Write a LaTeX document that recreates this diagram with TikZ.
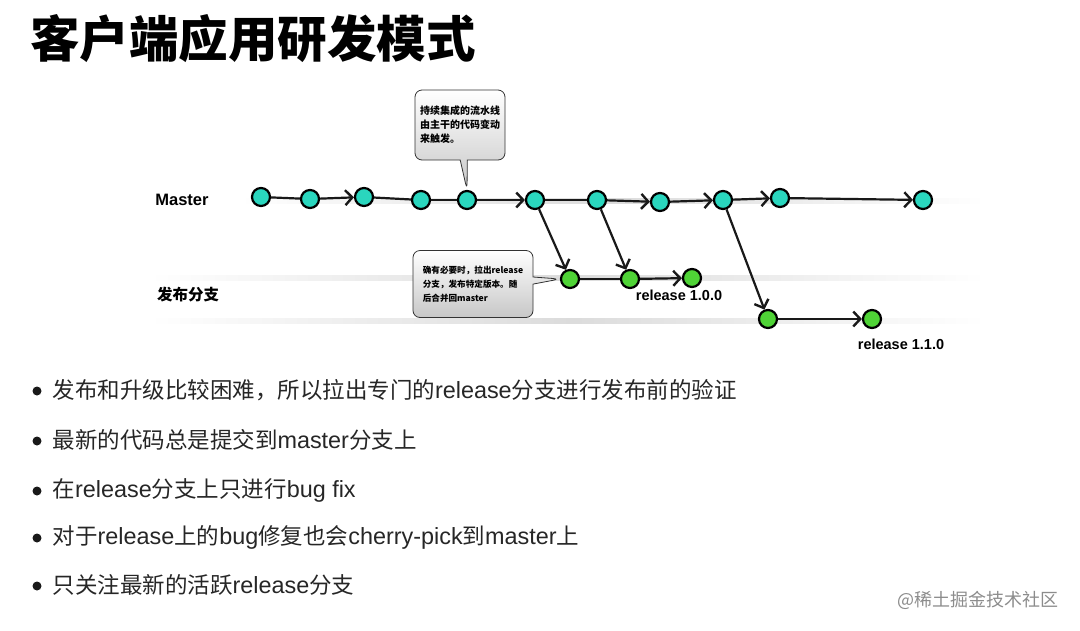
\documentclass[tikz,border=0pt]{standalone}
\usepackage{fontspec}
\setmainfont{Noto Sans CJK SC}
\newfontfamily\lat{Liberation Sans}
\newfontfamily\latw[Scale=1.04]{Liberation Sans}
\usepackage{tikz}
\usetikzlibrary{arrows.meta}
\usetikzlibrary{shapes}
\usetikzlibrary{shapes.callouts}
\usetikzlibrary{calc}

\definecolor{mastercol}{HTML}{2AD6BE}
\definecolor{relcol}{HTML}{4FD336}

\begin{document}
\begin{tikzpicture}[x=1pt, y=-1pt,
    commit/.style={circle, draw=black, line width=2.2pt, minimum size=18pt, inner sep=0pt},
    mcommit/.style={commit, fill=mastercol},
    rcommit/.style={commit, fill=relcol},
    link/.style={line width=2.2pt, black!90},
    go/.style={link, -{Straight Barb[length=7pt, width=15pt, line width=2.4pt]}},
    tip/.style={rectangle callout, draw=black!80, line width=0.8pt, rounded corners=7pt,
        top color=white, bottom color=black!22, align=left, inner sep=4pt},
    point/.style={circle, fill=black!90, inner sep=0pt, minimum size=9pt},
    say/.style={anchor=west, font=\fontsize{22.5}{25}\selectfont, text=black!85}]
    \path[use as bounding box] (0, 0) rectangle (1080, 630);

    % title
    \node[anchor=west, inner sep=0pt, font=\fontsize{49.5}{52}\selectfont\bfseries] (title) at (30, 39) {客户端应用研发模式};

    % lanes
    \shade[left color=white, right color=white, middle color=black!14] (240, 198) rectangle (985, 203);
    \shade[left color=white, right color=white, middle color=black!14] (150, 275) rectangle (985, 280);
    \shade[left color=white, right color=white, middle color=black!14] (150, 318) rectangle (985, 323);

    \node[font=\fontsize{16.5}{18}\selectfont\bfseries\lat] (mlabel) at (182, 200) {Master};
    \node[font=\fontsize{15.5}{18}\selectfont\bfseries] (rlabel) at (188, 295) {发布分支};

    % master commits
    \node[mcommit] (m1) at (261, 197) {};
    \node[mcommit] (m2) at (310, 199) {};
    \node[mcommit] (m3) at (364, 197) {};
    \node[mcommit] (m4) at (421, 200) {};
    \node[mcommit] (m5) at (467, 200) {};
    \node[mcommit] (m6) at (535, 200) {};
    \node[mcommit] (m7) at (597, 200) {};
    \node[mcommit] (m8) at (660, 202) {};
    \node[mcommit] (m9) at (723, 200) {};
    \node[mcommit] (m10) at (780, 198) {};
    \node[mcommit] (m11) at (923, 200) {};

    % release commits
    \node[rcommit] (r1) at (570, 279) {};
    \node[rcommit] (r2) at (630, 279) {};
    \node[rcommit] (r3) at (692, 278) {};
    \node[rcommit] (s1) at (768, 319) {};
    \node[rcommit] (s2) at (872, 319) {};

    \draw[link] (m1) -- (m2);
    \draw[go] (m2) -- (m3);
    \draw[link] (m3) -- (m4);
    \draw[link] (m4) -- (m5);
    \draw[go] (m5) -- (m6);
    \draw[link] (m6) -- (m7);
    \draw[go] (m7) -- (m8);
    \draw[go] (m8) -- (m9);
    \draw[go] (m9) -- (m10);
    \draw[go] (m10) -- (m11);

    \draw[go] (m6) -- (r1);
    \draw[go] (m7) -- (r2);
    \draw[go] (m9) -- (s1);
    \draw[link] (r1) -- (r2);
    \draw[go] (r2) -- (r3);
    \draw[go] (s1) -- (s2);

    \node[font=\fontsize{14.5}{16}\selectfont\bfseries\lat] (v1) at (679, 295) {release 1.0.0};
    \node[font=\fontsize{14.5}{16}\selectfont\bfseries\lat] (v2) at (901, 344) {release 1.1.0};

    % callouts
    \node[tip, font=\fontsize{10}{14}\selectfont\bfseries, minimum width=90pt, minimum height=70pt,
        callout absolute pointer={(m5.north)}] (ci) at (460, 125)
        {持续集成的流水线\\由主干的代码变动\\来触发。};
    \node[tip, font=\fontsize{8.6}{14}\selectfont\bfseries, minimum width=120pt, minimum height=67pt,
        callout absolute pointer={(r1.west)}] (cr) at (473, 284)
        {确有必要时，拉出release\\分支，发布特定版本。随\\后合并回master};

    % notes
    \node[point] (p1) at (37, 391) {};
    \node[say] (t1) at (49, 390) {发布和升级比较困难，所以拉出专门的{\latw release}分支进行发布前的验证};
    \node[point] (p2) at (37, 441) {};
    \node[say] (t2) at (49, 440) {最新的代码总是提交到{\latw master}分支上};
    \node[point] (p3) at (37, 491) {};
    \node[say] (t3) at (49, 490) {在{\latw release}分支上只进行{\latw bug fix}};
    \node[point] (p4) at (37, 538) {};
    \node[say] (t4) at (49, 537) {对于{\latw release}上的{\latw bug}修复也会{\latw cherry-pick}到{\latw master}上};
    \node[point] (p5) at (37, 586) {};
    \node[say] (t5) at (49, 585) {只关注最新的活跃{\latw release}分支};

    \node[anchor=east, text=black!45, font=\fontsize{18}{20}\selectfont] (wm) at (1062, 600) {@稀土掘金技术社区};
\end{tikzpicture}
\end{document}
